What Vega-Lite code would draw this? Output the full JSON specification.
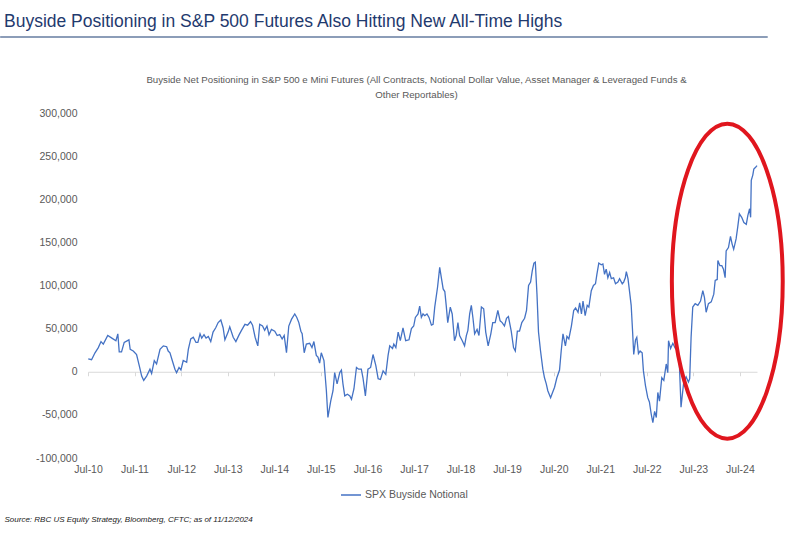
{
  "$schema": "https://vega.github.io/schema/vega-lite/v6.json",
  "width": 669,
  "height": 345,
  "autosize": {"type": "none"},
  "padding": {"left": 88, "top": 113, "right": 43, "bottom": 78},
  "background": "white",
  "config": {"view": {"stroke": null}, "font": "Liberation Sans"},
  "title": {
    "text": "Buyside Positioning in S&P 500 Futures Also Hitting New All-Time Highs",
    "anchor": "start",
    "frame": "group",
    "dx": -84,
    "offset": 6,
    "font": "Liberation Sans",
    "fontSize": 17.5,
    "fontWeight": "normal",
    "color": "#1F3A6E"
  },
  "layer": [
    {
      "data": {"values": [
{"date":"2010-07-03","value":15000},{"date":"2010-07-29","value":14000},{"date":"2010-08-25","value":22000},{"date":"2010-09-20","value":28000},{"date":"2010-10-11","value":35000},{"date":"2010-10-29","value":32000},{"date":"2010-12-03","value":42000},{"date":"2011-01-04","value":39000},{"date":"2011-02-05","value":36000},{"date":"2011-02-20","value":44000},{"date":"2011-03-03","value":23000},{"date":"2011-03-21","value":23000},{"date":"2011-04-11","value":34000},{"date":"2011-05-18","value":37000},{"date":"2011-05-28","value":26000},{"date":"2011-06-21","value":24000},{"date":"2011-07-17","value":20000},{"date":"2011-08-07","value":7000},{"date":"2011-08-26","value":-5000},{"date":"2011-09-11","value":-10000},{"date":"2011-10-04","value":-5000},{"date":"2011-10-30","value":3000},{"date":"2011-11-12","value":-2000},{"date":"2011-12-03","value":13000},{"date":"2011-12-21","value":9000},
{"date":"2012-01-17","value":26000},{"date":"2012-02-12","value":30000},{"date":"2012-03-09","value":29000},{"date":"2012-03-21","value":24000},{"date":"2012-04-04","value":22000},{"date":"2012-04-22","value":13000},{"date":"2012-05-13","value":3000},{"date":"2012-05-26","value":-1000},{"date":"2012-06-14","value":5000},{"date":"2012-06-29","value":2000},{"date":"2012-07-17","value":13000},{"date":"2012-08-13","value":11000},{"date":"2012-08-26","value":26000},{"date":"2012-09-14","value":38000},{"date":"2012-10-04","value":40000},{"date":"2012-10-25","value":34000},{"date":"2012-11-09","value":34000},{"date":"2012-11-26","value":44000},{"date":"2012-12-09","value":39000},{"date":"2012-12-27","value":43000},
{"date":"2013-01-12","value":39000},{"date":"2013-01-30","value":41000},{"date":"2013-02-18","value":35000},{"date":"2013-03-08","value":46000},{"date":"2013-03-29","value":51000},{"date":"2013-04-17","value":57000},{"date":"2013-05-08","value":60000},{"date":"2013-05-26","value":51000},{"date":"2013-06-09","value":37000},{"date":"2013-07-04","value":46000},{"date":"2013-07-17","value":52000},{"date":"2013-08-13","value":40000},{"date":"2013-09-03","value":35000},{"date":"2013-09-29","value":43000},{"date":"2013-10-17","value":48000},{"date":"2013-11-13","value":55000},{"date":"2013-12-04","value":54000},{"date":"2013-12-27","value":58000},
{"date":"2014-01-12","value":54000},{"date":"2014-02-01","value":40000},{"date":"2014-02-22","value":30000},{"date":"2014-03-09","value":55000},{"date":"2014-03-31","value":53000},{"date":"2014-04-17","value":48000},{"date":"2014-05-05","value":53000},{"date":"2014-05-21","value":43000},{"date":"2014-06-09","value":49000},{"date":"2014-07-05","value":47000},{"date":"2014-07-24","value":42000},{"date":"2014-08-13","value":43000},{"date":"2014-09-01","value":38000},{"date":"2014-09-17","value":42000},{"date":"2014-10-05","value":22000},{"date":"2014-10-23","value":53000},{"date":"2014-11-14","value":61000},{"date":"2014-12-09","value":67000},{"date":"2014-12-25","value":63000},
{"date":"2015-01-10","value":57000},{"date":"2015-01-26","value":47000},{"date":"2015-02-05","value":44000},{"date":"2015-02-21","value":22000},{"date":"2015-03-10","value":32000},{"date":"2015-04-05","value":33000},{"date":"2015-04-23","value":28000},{"date":"2015-05-08","value":35000},{"date":"2015-05-27","value":19000},{"date":"2015-06-09","value":17000},{"date":"2015-06-22","value":10000},{"date":"2015-07-05","value":22000},{"date":"2015-07-26","value":13000},{"date":"2015-08-14","value":-22000},{"date":"2015-08-26","value":-53000},{"date":"2015-09-17","value":-34000},{"date":"2015-10-05","value":-22000},{"date":"2015-10-18","value":-1000},{"date":"2015-11-06","value":-14000},{"date":"2015-11-27","value":-1000},{"date":"2015-12-10","value":2000},{"date":"2015-12-22","value":-14000},
{"date":"2016-01-05","value":-28000},{"date":"2016-01-26","value":-26000},{"date":"2016-02-14","value":-28000},{"date":"2016-02-27","value":-32000},{"date":"2016-03-17","value":-20000},{"date":"2016-04-06","value":5000},{"date":"2016-04-23","value":3000},{"date":"2016-05-14","value":3000},{"date":"2016-05-27","value":-7000},{"date":"2016-06-15","value":-28000},{"date":"2016-07-05","value":3000},{"date":"2016-07-26","value":5000},{"date":"2016-08-14","value":20000},{"date":"2016-09-05","value":7000},{"date":"2016-09-23","value":-8000},{"date":"2016-10-11","value":-9000},{"date":"2016-11-01","value":1000},{"date":"2016-11-22","value":-3000},{"date":"2016-12-10","value":19000},{"date":"2016-12-23","value":30000},
{"date":"2017-01-14","value":27000},{"date":"2017-01-24","value":32000},{"date":"2017-02-09","value":28000},{"date":"2017-02-27","value":46000},{"date":"2017-03-16","value":36000},{"date":"2017-04-06","value":51000},{"date":"2017-04-27","value":36000},{"date":"2017-05-23","value":37000},{"date":"2017-06-11","value":50000},{"date":"2017-06-29","value":53000},{"date":"2017-07-12","value":63000},{"date":"2017-08-02","value":67000},{"date":"2017-08-15","value":76000},{"date":"2017-08-28","value":63000},{"date":"2017-09-10","value":67000},{"date":"2017-09-24","value":65000},{"date":"2017-10-11","value":67000},{"date":"2017-10-27","value":63000},{"date":"2017-11-15","value":54000},{"date":"2017-11-28","value":55000},{"date":"2017-12-11","value":75000},
{"date":"2018-01-02","value":98000},{"date":"2018-01-19","value":121000},{"date":"2018-02-02","value":108000},{"date":"2018-02-15","value":96000},{"date":"2018-02-28","value":93000},{"date":"2018-03-11","value":77000},{"date":"2018-03-23","value":57000},{"date":"2018-04-12","value":75000},{"date":"2018-04-27","value":67000},{"date":"2018-05-15","value":36000},{"date":"2018-05-28","value":42000},{"date":"2018-06-11","value":57000},{"date":"2018-06-24","value":42000},{"date":"2018-07-15","value":36000},{"date":"2018-08-02","value":30000},{"date":"2018-08-16","value":42000},{"date":"2018-08-28","value":48000},{"date":"2018-09-11","value":67000},{"date":"2018-09-24","value":77000},{"date":"2018-10-07","value":62000},{"date":"2018-10-20","value":44000},{"date":"2018-11-08","value":49000},{"date":"2018-11-23","value":42000},{"date":"2018-12-12","value":75000},{"date":"2018-12-30","value":73000},
{"date":"2019-01-15","value":46000},{"date":"2019-02-03","value":30000},{"date":"2019-02-24","value":44000},{"date":"2019-03-11","value":57000},{"date":"2019-03-30","value":57000},{"date":"2019-04-20","value":71000},{"date":"2019-05-08","value":59000},{"date":"2019-05-24","value":57000},{"date":"2019-06-11","value":53000},{"date":"2019-06-27","value":62000},{"date":"2019-07-12","value":64000},{"date":"2019-08-03","value":47000},{"date":"2019-08-21","value":28000},{"date":"2019-09-04","value":24000},{"date":"2019-09-20","value":47000},{"date":"2019-10-07","value":47000},{"date":"2019-10-25","value":57000},{"date":"2019-11-16","value":62000},{"date":"2019-12-01","value":71000},{"date":"2019-12-17","value":100000},
{"date":"2020-01-02","value":104000},{"date":"2020-01-15","value":117000},{"date":"2020-01-28","value":126000},{"date":"2020-02-08","value":127000},{"date":"2020-02-21","value":90000},{"date":"2020-03-04","value":46000},{"date":"2020-03-20","value":24000},{"date":"2020-04-07","value":3000},{"date":"2020-04-20","value":-7000},{"date":"2020-05-04","value":-14000},{"date":"2020-05-16","value":-22000},{"date":"2020-06-07","value":-30000},{"date":"2020-06-20","value":-25000},{"date":"2020-07-08","value":-18000},{"date":"2020-07-26","value":-7000},{"date":"2020-08-16","value":2000},{"date":"2020-08-29","value":24000},{"date":"2020-09-12","value":44000},{"date":"2020-10-01","value":30000},{"date":"2020-10-13","value":41000},{"date":"2020-10-28","value":38000},{"date":"2020-11-17","value":53000},{"date":"2020-12-05","value":71000},{"date":"2020-12-20","value":74000},
{"date":"2021-01-08","value":69000},{"date":"2021-01-21","value":80000},{"date":"2021-02-04","value":67000},{"date":"2021-02-16","value":82000},{"date":"2021-03-05","value":65000},{"date":"2021-03-21","value":77000},{"date":"2021-04-03","value":75000},{"date":"2021-04-22","value":94000},{"date":"2021-05-09","value":100000},{"date":"2021-05-25","value":102000},{"date":"2021-06-05","value":113000},{"date":"2021-06-20","value":126000},{"date":"2021-07-09","value":124000},{"date":"2021-07-22","value":125000},{"date":"2021-08-04","value":113000},{"date":"2021-08-17","value":119000},{"date":"2021-08-30","value":109000},{"date":"2021-09-13","value":115000},{"date":"2021-09-26","value":108000},{"date":"2021-10-14","value":109000},{"date":"2021-10-29","value":102000},{"date":"2021-11-17","value":104000},{"date":"2021-11-30","value":108000},{"date":"2021-12-21","value":102000},
{"date":"2022-01-01","value":104000},{"date":"2022-01-14","value":109000},{"date":"2022-01-22","value":116000},{"date":"2022-02-04","value":108000},{"date":"2022-02-17","value":92000},{"date":"2022-03-01","value":77000},{"date":"2022-03-13","value":44000},{"date":"2022-03-21","value":20000},{"date":"2022-04-04","value":37000},{"date":"2022-04-14","value":40000},{"date":"2022-04-27","value":21000},{"date":"2022-05-10","value":24000},{"date":"2022-05-26","value":22000},{"date":"2022-06-05","value":1000},{"date":"2022-06-21","value":-16000},{"date":"2022-07-09","value":-30000},{"date":"2022-07-22","value":-35000},{"date":"2022-08-05","value":-49000},{"date":"2022-08-18","value":-59000},{"date":"2022-09-01","value":-46000},{"date":"2022-09-14","value":-53000},{"date":"2022-09-26","value":-24000},{"date":"2022-10-09","value":-34000},{"date":"2022-10-27","value":-7000},{"date":"2022-11-12","value":-10000},{"date":"2022-12-01","value":9000},{"date":"2022-12-13","value":-1000},{"date":"2022-12-19","value":36000},
{"date":"2023-01-04","value":27000},{"date":"2023-01-22","value":33000},{"date":"2023-02-10","value":27000},{"date":"2023-02-26","value":25000},{"date":"2023-03-14","value":9000},{"date":"2023-03-27","value":-41000},{"date":"2023-04-17","value":-12000},{"date":"2023-05-06","value":-6000},{"date":"2023-05-24","value":-12000},{"date":"2023-06-03","value":-8000},{"date":"2023-06-14","value":40000},{"date":"2023-06-27","value":75000},{"date":"2023-07-16","value":79000},{"date":"2023-08-06","value":77000},{"date":"2023-08-27","value":82000},{"date":"2023-09-14","value":94000},{"date":"2023-09-27","value":86000},{"date":"2023-10-10","value":69000},{"date":"2023-10-28","value":79000},{"date":"2023-11-19","value":81000},{"date":"2023-12-09","value":90000},{"date":"2023-12-20","value":106000},
{"date":"2024-01-05","value":107000},{"date":"2024-01-10","value":129000},{"date":"2024-01-26","value":123000},{"date":"2024-02-10","value":123000},{"date":"2024-02-23","value":119000},{"date":"2024-03-07","value":109000},{"date":"2024-03-15","value":140000},{"date":"2024-04-02","value":144000},{"date":"2024-04-18","value":157000},{"date":"2024-05-01","value":148000},{"date":"2024-05-13","value":142000},{"date":"2024-06-01","value":154000},{"date":"2024-06-14","value":168000},{"date":"2024-06-27","value":183000},{"date":"2024-07-15","value":179000},{"date":"2024-08-01","value":173000},{"date":"2024-08-20","value":171000},{"date":"2024-09-01","value":181000},{"date":"2024-09-15","value":189000},{"date":"2024-09-23","value":179000},{"date":"2024-09-28","value":222000},{"date":"2024-10-10","value":228000},{"date":"2024-10-18","value":235000},{"date":"2024-11-01","value":237000},{"date":"2024-11-12","value":239000}
      ]},
      "mark": {"type": "line", "strokeWidth": 1.3, "interpolate": "linear"},
      "encoding": {
        "x": {
          "field": "date",
          "type": "temporal",
          "scale": {"type": "utc", "domain": [{"year": 2010, "month": 7, "date": 1, "utc": true}, {"year": 2024, "month": 11, "date": 12, "utc": true}]},
          "axis": {
            "values": [
              {"year": 2010, "month": 7, "date": 1, "utc": true},{"year": 2011, "month": 7, "date": 1, "utc": true},{"year": 2012, "month": 7, "date": 1, "utc": true},{"year": 2013, "month": 7, "date": 1, "utc": true},{"year": 2014, "month": 7, "date": 1, "utc": true},{"year": 2015, "month": 7, "date": 1, "utc": true},{"year": 2016, "month": 7, "date": 1, "utc": true},{"year": 2017, "month": 7, "date": 1, "utc": true},{"year": 2018, "month": 7, "date": 1, "utc": true},{"year": 2019, "month": 7, "date": 1, "utc": true},{"year": 2020, "month": 7, "date": 1, "utc": true},{"year": 2021, "month": 7, "date": 1, "utc": true},{"year": 2022, "month": 7, "date": 1, "utc": true},{"year": 2023, "month": 7, "date": 1, "utc": true},{"year": 2024, "month": 7, "date": 1, "utc": true}
            ],
            "labelExpr": "utcFormat(datum.value, '%b-%y')",
            "offset": -86.25,
            "domainColor": "#D9D9D9",
            "domainWidth": 1,
            "tickColor": "#D9D9D9",
            "tickSize": 4,
            "labelPadding": 89,
            "labelFont": "Liberation Sans",
            "labelFontSize": 10.5,
            "labelColor": "#595959",
            "labelFlush": false,
            "labelOverlap": false,
            "grid": false,
            "title": "Source: RBC US Equity Strategy, Bloomberg, CFTC; as of 11/12/2024",
            "titleX": -84,
            "titleY": 148,
            "titleAlign": "left",
            "titleAnchor": "start",
            "titleBaseline": "middle",
            "titleFont": "Liberation Sans",
            "titleFontStyle": "italic",
            "titleFontWeight": "normal",
            "titleFontSize": 8,
            "titleColor": "#222222"
          }
        },
        "y": {
          "field": "value",
          "type": "quantitative",
          "scale": {"domain": [-100000, 300000], "nice": false, "zero": false},
          "axis": {
            "values": [-100000, -50000, 0, 50000, 100000, 150000, 200000, 250000, 300000],
            "labelExpr": "datum.value < 0 ? '-' + format(-datum.value, ',') : format(datum.value, ',')",
            "domain": false,
            "ticks": false,
            "grid": false,
            "labelPadding": 11,
            "labelFont": "Liberation Sans",
            "labelFontSize": 10.5,
            "labelColor": "#595959",
            "title": ["Buyside Net Positioning in S&P 500 e Mini Futures (All Contracts, Notional Dollar Value, Asset Manager & Leveraged Funds &", "Other Reportables)"],
            "titleAngle": 0,
            "titleX": 328,
            "titleY": -39,
            "titleAlign": "center",
            "titleBaseline": "top",
            "titleLineHeight": 15,
            "titleFont": "Liberation Sans",
            "titleFontSize": 9.7,
            "titleFontWeight": "normal",
            "titleColor": "#595959"
          }
        },
        "color": {
          "datum": "SPX Buyside Notional",
          "scale": {"range": ["#4472C4"]},
          "legend": {
            "orient": "none",
            "legendX": 252,
            "legendY": 371,
            "title": null,
            "symbolType": "stroke",
            "symbolSize": 400,
            "symbolStrokeWidth": 1.5,
            "labelFont": "Liberation Sans",
            "labelFontSize": 10.5,
            "labelColor": "#595959",
            "labelOffset": 3
          }
        }
      }
    },
    {
      "data": {"values": [{}]},
      "mark": {"type": "rule", "color": "#8C9DB8", "strokeWidth": 2},
      "encoding": {
        "x": {"datum": {"year": 2008, "month": 8, "date": 11, "utc": true}, "type": "temporal"},
        "x2": {"datum": {"year": 2025, "month": 2, "date": 4, "utc": true}},
        "y": {"datum": 388000, "type": "quantitative"}
      }
    },
    {
      "data": {"values": [{}]},
      "mark": {
        "type": "point",
        "shape": "M 0 -1 C 0.1944 -1 0.352 -0.5523 0.352 0 C 0.352 0.5523 0.1944 1 0 1 C -0.1944 1 -0.352 0.5523 -0.352 0 C -0.352 -0.5523 -0.1944 -1 0 -1 Z",
        "size": 99225,
        "filled": false,
        "stroke": "#E0161E",
        "strokeWidth": 4,
        "opacity": 1
      },
      "encoding": {
        "x": {"datum": {"year": 2024, "month": 3, "date": 24, "utc": true}, "type": "temporal"},
        "y": {"datum": 105000, "type": "quantitative"}
      }
    }
  ]
}
